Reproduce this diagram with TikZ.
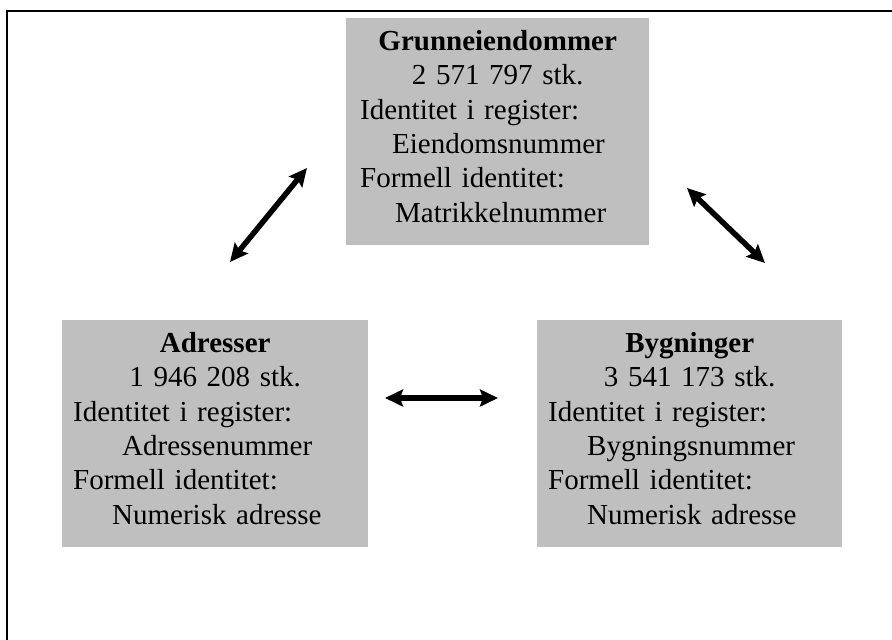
\documentclass[tikz,border=0pt]{standalone}
\usepackage{fontspec}
\setmainfont{Liberation Serif}
\usetikzlibrary{arrows.meta}
\tikzset{
  regbox/.style={anchor=north west, fill=black!25, inner xsep=11pt, inner ysep=0pt,
    text height=32pt, text depth=195pt, align=left,
    font=\fontsize{29}{34.4}\selectfont},
  dbl/.style={{Stealth[length=18pt,width=17pt,inset=3pt]}-{Stealth[length=18pt,width=17pt,inset=3pt]}, line width=5.5pt}
}
\newcommand{\midline}[1]{\makebox[\hsize]{#1}}
\begin{document}
\begin{tikzpicture}[x=1pt,y=-1pt]
    \useasboundingbox (0,0) rectangle (892,640);
    \draw[line width=1.2pt] (7,640) -- (7,11) -- (892,11);
    % registers
    \node[regbox, text width=275pt, inner xsep=14pt] (gru) at (346,18) {%
        \midline{\textbf{Grunneiendommer}}\\
        \midline{2 571 797 stk.}\\
        Identitet i register:\\
        \hspace*{32pt}Eiendomsnummer\\
        Formell identitet:\\
        \hspace*{35pt}Matrikkelnummer};
    \node[regbox, text width=284pt] (adr) at (62,320) {%
        \midline{\textbf{Adresser}}\\
        \midline{1 946 208 stk.}\\
        Identitet i register:\\
        \hspace*{49pt}Adressenummer\\
        Formell identitet:\\
        \hspace*{39pt}Numerisk adresse};
    \node[regbox, text width=283pt] (byg) at (537,320) {%
        \midline{\textbf{Bygninger}}\\
        \midline{3 541 173 stk.}\\
        Identitet i register:\\
        \hspace*{39pt}Bygningsnummer\\
        Formell identitet:\\
        \hspace*{39pt}Numerisk adresse};
    % arrow ends
    \coordinate (ga) at (307,168);
    \coordinate (ag) at (230,262);
    \coordinate (gb) at (687,188);
    \coordinate (bg) at (765,263);
    \coordinate (ab) at (385,398);
    \coordinate (ba) at (498,398);
    \draw[dbl] (ag) -- (ga);
    \draw[dbl] (gb) -- (bg);
    \draw[dbl] (ab) -- (ba);
\end{tikzpicture}
\end{document}
